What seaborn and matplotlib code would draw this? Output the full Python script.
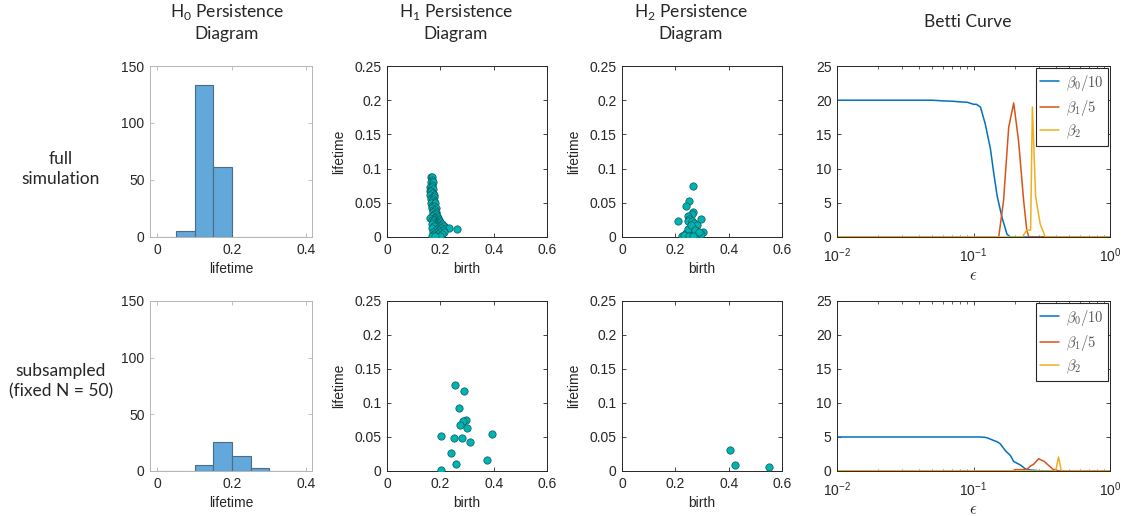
import matplotlib
matplotlib.use('Agg')
import matplotlib.pyplot as plt
import seaborn as sns

# --- histogram of H0 lifetimes (bin edges + counts) ---
bin_edges = [0.0, 0.05, 0.1, 0.15, 0.2, 0.25, 0.3, 0.35, 0.4]
bin_mids = [0.025, 0.075, 0.125, 0.175, 0.225, 0.275, 0.325, 0.375]
h0_full_counts = [0, 5, 133, 61, 0, 0, 0, 0]
h0_sub_counts = [0, 0, 5, 26, 13, 3, 0, 0]

# --- H1 persistence, full simulation ---
h1_full_birth = [0.166, 0.170,
                 0.168,
                 0.165, 0.171,
                 0.167,
                 0.163, 0.169,
                 0.173,
                 0.160, 0.166,
                 0.172, 0.168,
                 0.175, 0.163,
                 0.170, 0.176,
                 0.166, 0.172,
                 0.178, 0.168,
                 0.174, 0.164, 0.180,
                 0.170, 0.176,
                 0.182, 0.167,
                 0.173, 0.179,
                 0.185, 0.171,
                 0.177, 0.183,
                 0.168, 0.188,
                 0.175, 0.181, 0.192, 0.160,
                 0.170, 0.186, 0.178, 0.196,
                 0.184, 0.190, 0.200, 0.174,
                 0.180, 0.194, 0.205, 0.170,
                 0.186, 0.198, 0.212, 0.176,
                 0.190, 0.203, 0.220, 0.168, 0.232,
                 0.262,
                 0.182, 0.195, 0.210,
                 0.174, 0.188, 0.200, 0.215,
                 0.178, 0.192, 0.205,
                 0.170, 0.185, 0.198, 0.180]
h1_full_life = [0.088, 0.088,
                0.084,
                0.080, 0.080,
                0.076,
                0.073, 0.073,
                0.070,
                0.067, 0.067,
                0.064, 0.064,
                0.061, 0.061,
                0.058, 0.058,
                0.055, 0.055,
                0.052, 0.052,
                0.049, 0.049, 0.049,
                0.046, 0.046,
                0.043, 0.043,
                0.040, 0.040,
                0.037, 0.037,
                0.034, 0.034,
                0.031, 0.031,
                0.028, 0.028, 0.028, 0.028,
                0.025, 0.025, 0.025, 0.025,
                0.022, 0.022, 0.022, 0.022,
                0.019, 0.019, 0.019, 0.019,
                0.016, 0.016, 0.016, 0.016,
                0.013, 0.013, 0.013, 0.013, 0.013,
                0.011,
                0.010, 0.010, 0.010,
                0.007, 0.007, 0.007, 0.007,
                0.004, 0.004, 0.004,
                0.001, 0.001, 0.001, 0.001]

# --- H2 persistence, full simulation ---
h2_full_birth = [0.267, 0.252, 0.239, 0.209, 0.295, 0.265, 0.262, 0.246, 0.252, 0.247,
                 0.262, 0.270, 0.280, 0.305, 0.224, 0.240, 0.255, 0.270, 0.285, 0.298,
                 0.262, 0.248, 0.258, 0.275, 0.232, 0.290, 0.250, 0.266]
h2_full_life = [0.075, 0.052, 0.046, 0.024, 0.027, 0.037, 0.033, 0.030, 0.027, 0.023,
                0.024, 0.021, 0.017, 0.008, 0.001, 0.006, 0.009, 0.005, 0.003, 0.004,
                0.014, 0.012, 0.018, 0.010, 0.003, 0.007, 0.001, 0.002]

# --- subsampled persistence ---
h1_sub_birth = [0.256, 0.2875, 0.270, 0.2975, 0.284, 0.2725, 0.299, 0.395,
                0.201, 0.251, 0.281, 0.3125, 0.241, 0.375, 0.260, 0.2025]
h1_sub_life = [0.1265, 0.118, 0.092, 0.0747, 0.0728, 0.0674, 0.0635, 0.055,
               0.0508, 0.0488, 0.0483, 0.042, 0.0264, 0.0166, 0.0107, 0.001]
h2_sub_birth = [0.404, 0.425, 0.551]
h2_sub_life = [0.031, 0.0088, 0.0063]

# --- Betti curves, full simulation ---
b0_full_eps = [0.01, 0.03, 0.05, 0.06, 0.07, 0.08, 0.09, 0.1, 0.105, 0.1125,
               0.122, 0.133, 0.141, 0.149, 0.162, 0.176, 0.186, 1.0]
b0_full_val = [20.0, 20.0, 20.0, 19.9, 19.85, 19.75, 19.7, 19.4, 19.4, 19.0,
               16.5, 12.9, 9.2, 6.0, 2.8, 0.4, 0.0, 0.0]
b1_full_eps = [0.01, 0.153, 0.166, 0.181, 0.197, 0.214, 0.233, 0.246, 0.255, 1.0]
b1_full_val = [0.0, 0.0, 5.3, 16.0, 19.6, 14.0, 5.3, 0.9, 0.0, 0.0]
b2_full_eps = [0.01, 0.228, 0.245, 0.262, 0.27, 0.285, 0.308, 0.336, 1.0]
b2_full_val = [0.0, 0.0, 1.0, 1.0, 19.0, 6.0, 1.9, 0.0, 0.0]

# --- Betti curves, subsampled ---
b0_sub_eps = [0.01, 0.1125, 0.122, 0.129, 0.14, 0.149, 0.157, 0.171, 0.186, 0.197,
              0.21, 0.22, 0.24, 0.26, 0.3, 0.385, 1.0]
b0_sub_val = [5.0, 5.0, 4.95, 4.8, 4.5, 4.3, 4.0, 3.0, 2.3, 1.4,
              1.1, 0.9, 0.3, 0.15, 0.05, 0.0, 0.0]
b1_sub_eps = [0.01, 0.195, 0.2, 0.246, 0.26, 0.276, 0.3, 0.33, 0.356, 0.385, 0.4, 0.42, 1.0]
b1_sub_val = [0.0, 0.0, 0.2, 0.2, 0.7, 1.0, 1.8, 1.4, 0.8, 0.2, 0.2, 0.0, 0.0]
b2_sub_eps = [0.01, 0.4, 0.42, 0.44, 1.0]
b2_sub_val = [0.0, 0.0, 2.05, 0.0, 0.0]

betti_labels = [r'$\beta_0/10$', r'$\beta_1/5$', r'$\beta_2$']
betti_colors = ['#0072BD', '#D95319', '#EDB120']

sns.set_style('ticks')
plt.rcParams['font.family'] = ['Liberation Sans', 'DejaVu Sans']

TXT = '#262626'
W, H = 1123, 516
fig = plt.figure(figsize=(W / 100, H / 100), dpi=100)


def px_axes(l, t, r, b):
    return fig.add_axes([l / W, 1 - b / H, (r - l) / W, (b - t) / H])


def matlab_style(ax, frame=TXT):
    ax.tick_params(direction='in', top=True, right=True, length=3, width=0.6,
                   color=frame, labelsize=10, labelcolor=TXT, pad=4)
    ax.tick_params(which='minor', direction='in', top=True, right=True,
                   length=1.8, width=0.5, color=frame)
    for s in ax.spines.values():
        s.set_color(frame)
        s.set_linewidth(0.7)
    ax.xaxis.label.set_color(TXT)
    ax.yaxis.label.set_color(TXT)


def hist_panel(ax, counts):
    sns.histplot(x=bin_mids, weights=counts, bins=bin_edges, ax=ax,
                 color='#62A8DA', alpha=1.0, edgecolor='#4f6a84', linewidth=0.8)
    ax.set_xlim(-0.02, 0.415)
    ax.set_ylim(0, 150)
    ax.set_xticks([0, 0.2, 0.4])
    ax.set_xticklabels(['0', '0.2', '0.4'])
    ax.set_yticks([0, 50, 100, 150])
    ax.set_xlabel('lifetime', fontsize=10)
    ax.set_ylabel('')
    matlab_style(ax, frame='#b5b5b5')


def scatter_panel(ax, birth, life):
    sns.scatterplot(x=birth, y=life, ax=ax, s=28, color='#00B2B2',
                    edgecolor='#0a5a5a', linewidth=0.5, zorder=3)
    ax.set_xlim(0, 0.6)
    ax.set_ylim(0, 0.25)
    ax.set_xticks([0, 0.2, 0.4, 0.6])
    ax.set_xticklabels(['0', '0.2', '0.4', '0.6'])
    ax.set_yticks([0, 0.05, 0.1, 0.15, 0.2, 0.25])
    ax.set_yticklabels(['0', '0.05', '0.1', '0.15', '0.2', '0.25'])
    ax.set_xlabel('birth', fontsize=10)
    ax.set_ylabel('lifetime', fontsize=10, labelpad=6)
    matlab_style(ax)


def betti_panel(ax, curves):
    for (eps, val), lab, col in zip(curves, betti_labels, betti_colors):
        sns.lineplot(x=eps, y=val, ax=ax, color=col, linewidth=1.1, label=lab)
    ax.set_xscale('log')
    ax.set_xlim(0.01, 1)
    ax.set_ylim(0, 25)
    ax.set_yticks([0, 5, 10, 15, 20, 25])
    ax.set_xticks([0.01, 0.1, 1])
    ax.set_xticklabels([r'$\mathregular{10^{-2}}$', r'$\mathregular{10^{-1}}$',
                        r'$\mathregular{10^{0}}$'])
    ax.set_xlabel(r'$\epsilon$', fontsize=12, math_fontfamily='cm', labelpad=2)
    ax.set_ylabel('')
    matlab_style(ax)
    ax.tick_params(axis='x', pad=7)
    leg = ax.legend(loc='upper right', frameon=True, fancybox=False, framealpha=1,
                    edgecolor=TXT, fontsize=10.5, borderaxespad=0.15,
                    handlelength=1.3, handletextpad=0.45, borderpad=0.3,
                    labelspacing=0.35)
    leg.get_frame().set_linewidth(0.8)
    for t in leg.get_texts():
        t.set_math_fontfamily('cm')
        t.set_color('#555555')


cols = [(150, 312), (387, 547), (622, 782), (837, 1110)]
rows = [(66, 237), (301, 471)]

data_rows = [
    (h0_full_counts, (h1_full_birth, h1_full_life), (h2_full_birth, h2_full_life),
     [(b0_full_eps, b0_full_val), (b1_full_eps, b1_full_val), (b2_full_eps, b2_full_val)]),
    (h0_sub_counts, (h1_sub_birth, h1_sub_life), (h2_sub_birth, h2_sub_life),
     [(b0_sub_eps, b0_sub_val), (b1_sub_eps, b1_sub_val), (b2_sub_eps, b2_sub_val)]),
]

for (t, b), (counts, h1, h2, curves) in zip(rows, data_rows):
    hist_panel(px_axes(cols[0][0], t, cols[0][1], b), counts)
    scatter_panel(px_axes(cols[1][0], t, cols[1][1], b), *h1)
    scatter_panel(px_axes(cols[2][0], t, cols[2][1], b), *h2)
    betti_panel(px_axes(cols[3][0], t, cols[3][1], b), curves)

title_kw = dict(ha='center', va='center', fontsize=12.5, color=TXT,
                family=['Lato', 'DejaVu Sans'], linespacing=1.3)
fig.text(227 / W, 1 - 22 / H, r'H$_\mathregular{0}$ Persistence' + '\nDiagram', **title_kw)
fig.text(456 / W, 1 - 22 / H, r'H$_\mathregular{1}$ Persistence' + '\nDiagram', **title_kw)
fig.text(691 / W, 1 - 22 / H, r'H$_\mathregular{2}$ Persistence' + '\nDiagram', **title_kw)
fig.text(968 / W, 1 - 22 / H, 'Betti Curve', **title_kw)

fig.text(61 / W, 1 - 169 / H, 'full\nsimulation', **title_kw)
fig.text(61 / W, 1 - 381 / H, 'subsampled\n(fixed N = 50)', **title_kw)

fig.savefig('out.png', dpi=100)
